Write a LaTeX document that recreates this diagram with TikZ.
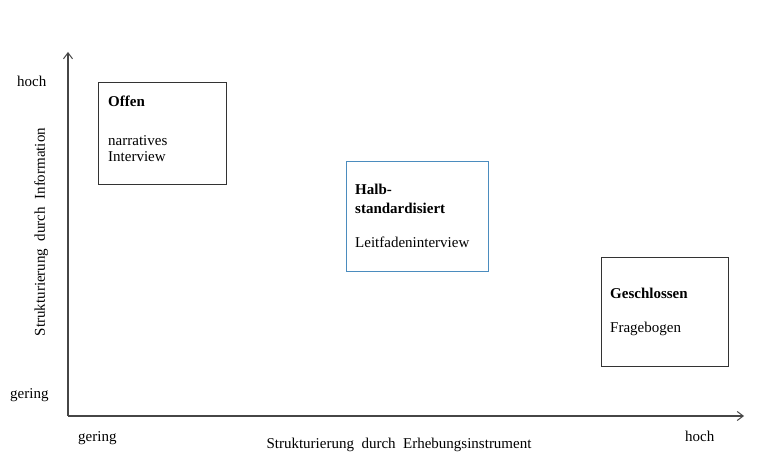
\documentclass[tikz,border=0pt]{standalone}
\usepackage{fontspec}
\setmainfont{Liberation Serif}
\usetikzlibrary{arrows.meta}
\definecolor{axisgray}{RGB}{70,70,70}
\definecolor{boxblue}{RGB}{75,140,190}
\tikzset{
  axis/.style={draw=axisgray, line width=1.1pt, -{Straight Barb[length=6pt,width=9pt,line width=1pt]}},
  frame/.style={draw=black!80, line width=0.9pt, rectangle, inner sep=0pt},
  lbl/.style={anchor=base west, inner sep=0pt, font=\fontsize{15}{17}\selectfont},
  ttl/.style={lbl, font=\fontsize{15}{17}\selectfont\bfseries},
}
\begin{document}
\begin{tikzpicture}[x=1pt,y=-1pt]
\useasboundingbox (0,0) rectangle (780,470);
% axes
\coordinate (o) at (68,416);
\coordinate (xe) at (744,416);
\coordinate (ye) at (68,52);
\draw[axis] (o) -- (xe);
\draw[axis] (o) -- (ye);
% boxes
\node[frame, minimum width=128pt, minimum height=102pt, anchor=north west] (b1) at (98,82) {};
\node[frame, draw=boxblue, minimum width=142pt, minimum height=110pt, anchor=north west] (b2) at (346,161) {};
\node[frame, minimum width=127pt, minimum height=109pt, anchor=north west] (b3) at (601,257) {};
% box texts
\node[ttl] (t1) at (108,107) {Offen};
\node[lbl] (t1a) at (108,146) {narratives};
\node[lbl] (t1b) at (108,162) {Interview};
\node[ttl] (t2) at (355,195) {Halb-};
\node[ttl] (t2a) at (355,214) {standardisiert};
\node[lbl] (t2b) at (355,248) {Leitfadeninterview};
\node[ttl] (t3) at (610,299) {Geschlossen};
\node[lbl] (t3a) at (610,333) {Fragebogen};
% axis labels
\node[lbl] (yh) at (17,87) {hoch};
\node[lbl] (yg) at (10,399) {gering};
\node[lbl] (xg) at (78,442) {gering};
\node[lbl] (xh) at (685,442) {hoch};
\node[lbl, anchor=base] (xl) at (399,449) {Strukturierung\ \ durch\ \ Erhebungsinstrument};
\node[lbl, anchor=base, rotate=90] (yl) at (45,232) {Strukturierung\ \ durch\ \ Information};
\end{tikzpicture}
\end{document}
